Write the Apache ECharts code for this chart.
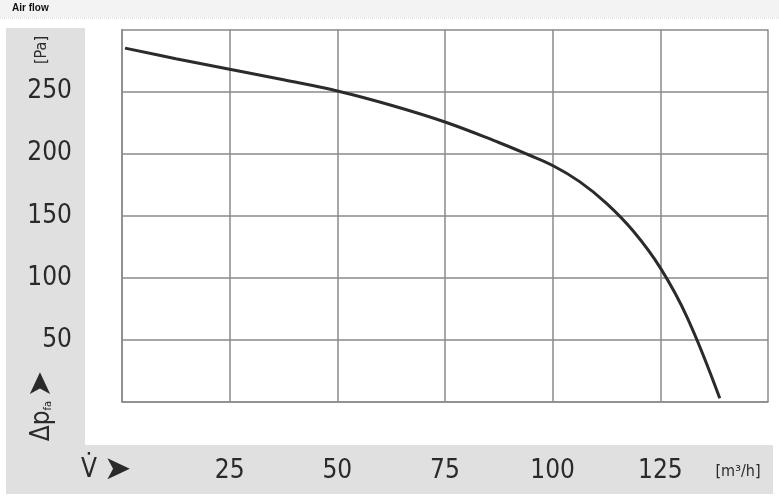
<!DOCTYPE html>
<html><head><meta charset="utf-8">
<script src="https://cdn.jsdelivr.net/npm/echarts@6/dist/echarts.min.js"></script>
<style>html,body{margin:0;padding:0;background:#fff}#c{width:779px;height:503px}</style>
</head><body><div id="c"></div>
<script>
// Data
var flowX = [0.7, 12.5, 25, 37.5, 50, 62.5, 75, 87.5, 93.75, 100, 106.25, 112.5, 118.75, 125, 131.25, 138.8];
var pressureY = [285, 276.5, 268, 259.5, 250.5, 239, 225.5, 209, 200, 190.5, 177.5, 160, 137.5, 108, 68, 3];
var xTicks = [0, 25, 50, 75, 100, 125, 150];
var yTicks = [0, 50, 100, 150, 200, 250, 300];

var chart = echarts.init(document.getElementById('c'), null, {renderer: 'canvas'});
var numFont = '"DejaVu Sans Condensed", "Liberation Sans Narrow", "Liberation Sans", sans-serif';
var gray = '#e0e0e0';
var points = flowX.map(function (x, i) { return [x, pressureY[i]]; });

chart.setOption({
  animation: false,
  backgroundColor: '#fff',
  graphic: [
    {type: 'rect', shape: {x: 0, y: 0, width: 779, height: 17}, style: {fill: '#f3f3f3'}, z: -10},
    {type: 'line', shape: {x1: 0, y1: 18, x2: 779, y2: 18}, style: {stroke: '#d0d0d0', lineWidth: 1, lineDash: [1, 1]}, z: -10},
    {type: 'text', x: 12, y: 8, style: {text: 'Air flow', font: 'bold 10px "Liberation Sans", Arial, sans-serif', fill: '#111', verticalAlign: 'middle'}},
    {type: 'rect', shape: {x: 6, y: 28, width: 79, height: 466}, style: {fill: gray}, z: -10},
    {type: 'rect', shape: {x: 85, y: 445, width: 688, height: 49}, style: {fill: gray}, z: -10},
    {type: 'text', x: 42, y: 50, rotation: Math.PI / 2, style: {text: '[Pa]', font: '16px ' + numFont, fill: '#2a2a2a', align: 'center', verticalAlign: 'middle'}},
    {type: 'text', x: 42, y: 406, rotation: Math.PI / 2, style: {
      text: '{a|Δp}{s|fa} {r|➤}', align: 'center', verticalAlign: 'middle',
      rich: {
        a: {font: '26px ' + numFont, fill: '#2a2a2a', verticalAlign: 'middle'},
        s: {font: '11px ' + numFont, fill: '#2a2a2a', padding: [12, 0, 0, 0]},
        r: {font: '32px "DejaVu Sans", sans-serif', fill: '#2a2a2a', verticalAlign: 'middle'}
      }}},
    {type: 'text', x: 81, y: 470, style: {
      text: '{a|V̇}  {r|➤}', verticalAlign: 'middle',
      rich: {
        a: {font: '26px ' + numFont, fill: '#2a2a2a'},
        r: {font: '33px "DejaVu Sans", sans-serif', fill: '#2a2a2a'}
      }}},
    {type: 'text', x: 738, y: 472, style: {text: '[m³/h]', font: '16px ' + numFont, fill: '#2a2a2a', align: 'center', verticalAlign: 'middle'}}
  ],
  grid: {left: 122, top: 29.5, right: 11, bottom: 101, containLabel: false, show: false},
  xAxis: {
    type: 'value', min: 0, max: 150, interval: 25,
    axisLine: {show: true, lineStyle: {color: '#8a8a8a', width: 1.5}},
    axisTick: {show: false},
    splitLine: {show: true, lineStyle: {color: '#8a8a8a', width: 1.5}},
    axisLabel: {
      margin: 56, color: '#2a2a2a', fontFamily: numFont, fontSize: 26,
      formatter: function (v) { return (v === xTicks[0] || v === xTicks[xTicks.length - 1]) ? '' : String(v); }
    }
  },
  yAxis: {
    type: 'value', min: 0, max: 300, interval: 50,
    axisLine: {show: true, lineStyle: {color: '#8a8a8a', width: 1.5}},
    axisTick: {show: false},
    splitLine: {show: true, lineStyle: {color: '#8a8a8a', width: 1.5}},
    axisLabel: {
      margin: 50, color: '#2a2a2a', fontFamily: numFont, fontSize: 26,
      formatter: function (v) { return (v === yTicks[0] || v === yTicks[yTicks.length - 1]) ? '' : String(v); }
    }
  },
  series: [{
    type: 'line', data: points, smooth: 0.4, showSymbol: false,
    lineStyle: {color: '#2b2b2b', width: 3}
  }]
});
</script>
</body></html>
